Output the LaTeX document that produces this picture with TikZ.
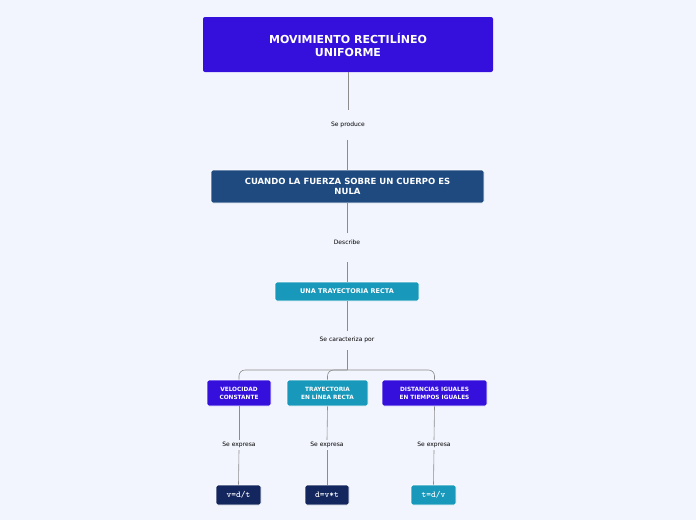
\documentclass[tikz,border=0pt]{standalone}
\usepackage{fontspec}
\setmainfont{DejaVu Sans}
\begin{document}
\begin{tikzpicture}[x=1pt,y=-1pt,
 box/.style={rounded corners=2pt,text=white,font=\bfseries,align=center,inner sep=0pt},
 lbl/.style={font=\fontsize{6}{7}\selectfont,inner sep=2pt,fill=bgc},
 ln/.style={draw=black!45,line width=0.6pt}]
\definecolor{bgc}{HTML}{F3F5FE}
\definecolor{purp}{HTML}{3510DC}
\definecolor{dblue}{HTML}{1E4A80}
\definecolor{teal}{HTML}{1898BA}
\definecolor{navy}{HTML}{13265E}
\fill[bgc] (0,0) rectangle (696,520);
\useasboundingbox (0,0) rectangle (696,520);
\node[box,fill=purp,minimum width=290pt,minimum height=55pt,font=\bfseries\fontsize{11}{13}\selectfont] (t) at (348,44.5) {MOVIMIENTO RECTILÍNEO\\UNIFORME};
\node[lbl] (l1) at (348,125) {Se produce};
\node[box,fill=dblue,minimum width=273pt,minimum height=33pt,font=\bfseries\fontsize{8.5}{10.5}\selectfont,draw=white,line width=0.8pt] (f) at (347.5,186.5) {CUANDO LA FUERZA SOBRE UN CUERPO ES\\NULA};
\node[lbl] (l2) at (347,242) {Describe};
\node[box,fill=teal,minimum width=144pt,minimum height=19pt,font=\bfseries\fontsize{6.5}{8}\selectfont,draw=white,line width=0.8pt] (r) at (347,291.5) {UNA TRAYECTORIA RECTA};
\node[lbl] (l3) at (347,340) {Se caracteriza por};
\node[box,fill=purp,minimum width=64pt,minimum height=26pt,font=\bfseries\fontsize{5.8}{8}\selectfont,draw=white,line width=0.8pt] (a) at (239,393) {VELOCIDAD\\CONSTANTE};
\node[box,fill=teal,minimum width=81pt,minimum height=26pt,font=\bfseries\fontsize{5.8}{8}\selectfont,draw=white,line width=0.8pt] (b) at (327.5,393) {TRAYECTORIA\\EN LÍNEA RECTA};
\node[box,fill=purp,minimum width=105pt,minimum height=26pt,font=\bfseries\fontsize{5.8}{8}\selectfont,draw=white,line width=0.8pt] (c) at (434.5,393) {DISTANCIAS IGUALES\\EN TIEMPOS IGUALES};
\node[lbl] (la) at (239,445) {Se expresa};
\node[lbl] (lb) at (327,445) {Se expresa};
\node[lbl] (lc) at (434,445) {Se expresa};
\node[box,fill=navy,minimum width=45pt,minimum height=20pt,font=\bfseries\ttfamily\fontsize{9}{10}\selectfont,draw=white,line width=0.8pt] (ea) at (238.5,495) {v=d/t};
\node[box,fill=navy,minimum width=44pt,minimum height=20pt,font=\bfseries\ttfamily\fontsize{9}{10}\selectfont,draw=white,line width=0.8pt] (eb) at (327,495) {d=v*t};
\node[box,fill=teal,minimum width=45pt,minimum height=20pt,font=\bfseries\ttfamily\fontsize{9}{10}\selectfont,draw=white,line width=0.8pt] (ec) at (433.5,495) {t=d/v};
\draw[ln] (t.south) -- ++(0,38);
\draw[ln] (f.north) -- ++(0,-30);
\draw[ln] (f.south) -- ++(0,30);
\draw[ln] (r.north) -- ++(0,-20);
\draw[ln] (r.south) -- ++(0,30);
\coordinate (j) at (347,370);
\draw[ln] (347,350) -- (j);
\draw[ln,rounded corners=6pt] (j) -| (a.north);
\draw[ln,rounded corners=6pt] (j) -| (b.north);
\draw[ln,rounded corners=6pt] (j) -| (c.north);
\foreach \u/\l/\e in {a/la/ea,b/lb/eb,c/lc/ec}{
 \draw[ln] (\u.south) -- (\l.north);
 \draw[ln] (\l.south) -- (\e.north);}
\end{tikzpicture}
\end{document}
